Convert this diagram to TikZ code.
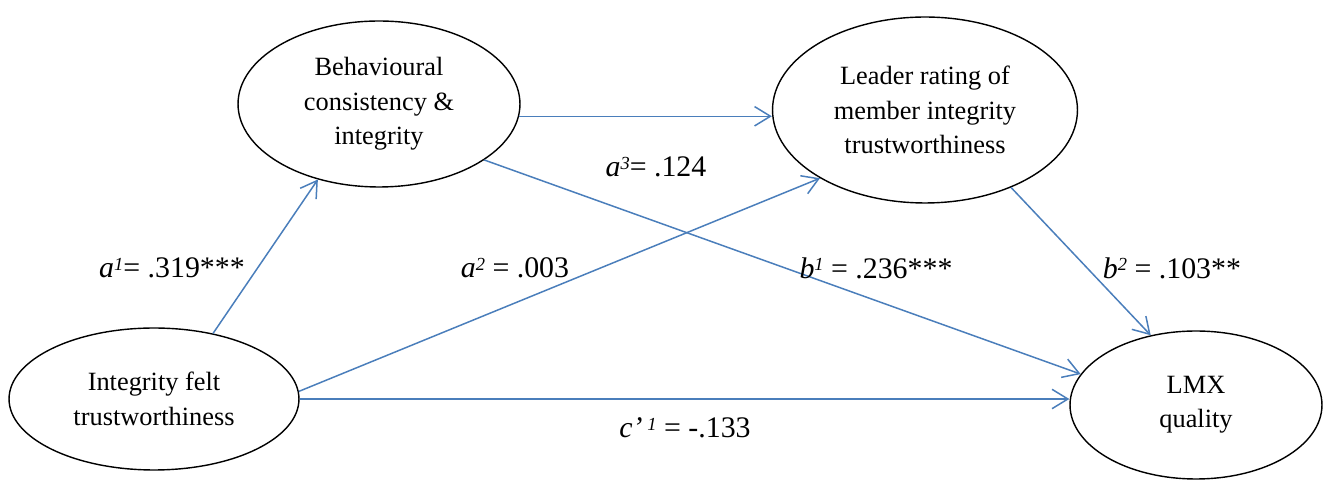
\documentclass[tikz,border=0pt]{standalone}
\usepackage{fontspec}
\setmainfont{Liberation Serif}
\usepackage{tikz}
\usetikzlibrary{shapes.geometric,arrows.meta}
\definecolor{pathblue}{RGB}{74,126,187}
\newcommand{\pathidx}[1]{\raisebox{4.4pt}{\fontsize{10.5}{10.5}\selectfont\textit{#1}}}

\begin{document}
\begin{tikzpicture}[x=0.02cm, y=-0.02cm,
    latent/.style={ellipse, draw, thick, inner sep=0pt, align=center,
      font=\fontsize{15}{19.6}\selectfont},
    path/.style={pathblue, line width=0.85pt, -{Straight Barb[length=9pt, width=11pt]}},
    coef/.style={font=\fontsize{17}{20}\selectfont}]
    \useasboundingbox (0,0) rectangle (1330,482);
    % constructs
    \node[latent, minimum width=5.8cm, minimum height=2.84cm] (integ) at (154,399) {Integrity felt\\trustworthiness};
    \node[latent, minimum width=5.64cm, minimum height=3.32cm] (behav) at (379,104) {Behavioural\\consistency \&\\integrity};
    \node[latent, minimum width=6.1cm, minimum height=3.72cm] (leader) at (925,110) {Leader rating of\\member integrity\\trustworthiness};
    \node[latent, minimum width=5.04cm, minimum height=2.96cm] (lmx) at (1196,405) {LMX\\quality};
    % paths
    \draw[path] (integ.48) -- (behav.231);
    \draw[path] (integ.3) -- (leader.213);
    \draw[path] (integ.east) -- (integ.east -| lmx.west);
    \draw[path] (behav.355) -- (behav.355 -| leader.west);
    \draw[path] (behav.332) -- (lmx.165);
    \draw[path] (leader.318) -- (lmx.123);
    % coefficients
    \node[coef] (ca1) at (172,268) {\textit{a}\pathidx{1}= .319***};
    \node[coef] (ca2) at (515,268) {\textit{a}\pathidx{2} = .003};
    \node[coef] (ca3) at (656,167) {\textit{a}\pathidx{3}= .124};
    \node[coef] (cb1) at (876,268) {\textit{b}\pathidx{1} = .236***};
    \node[coef] (cb2) at (1172,268) {\textit{b}\pathidx{2} = .103**};
    \node[coef] (cc1) at (685,428) {\textit{c’}\,\pathidx{1} = -.133};
\end{tikzpicture}
\end{document}
